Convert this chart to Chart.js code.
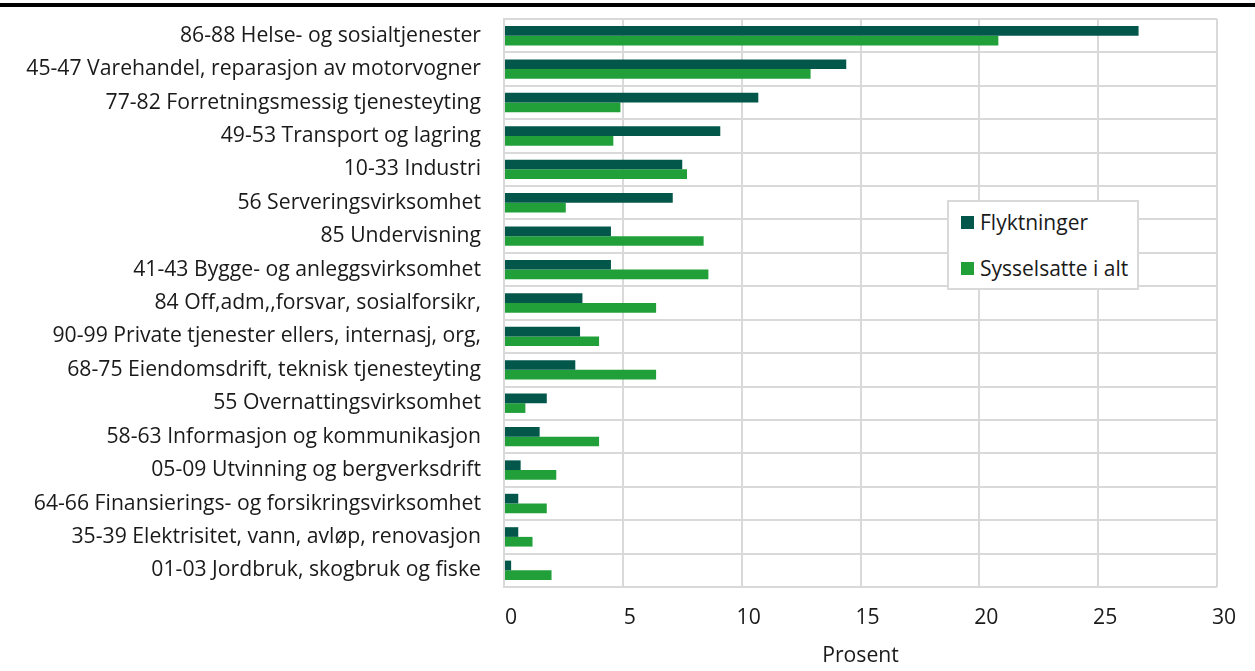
<!DOCTYPE html>
<html>
<head>
<meta charset="utf-8">
<script src="https://cdn.jsdelivr.net/npm/chart.js@4/dist/chart.umd.min.js"></script>
<style>
  body { margin: 0; background: #fff; }
  #wrap { position: relative; width: 1255px; height: 671px; }
  #topline { position: absolute; left: 0; top: 3px; width: 1255px; height: 4px; background: #000; }
  #legend { position: absolute; left: 947px; top: 200px; width: 188px; height: 86px;
    border: 2px solid #d9d9d9; background: #fff; font-family: "Open Sans", sans-serif; font-size: 21px; color: #1a1a1a; }
  .item { position: absolute; left: 12px; display: flex; align-items: center; white-space: nowrap; }
  .sw { width: 13px; height: 13px; margin-right: 6px; }
</style>
</head>
<body>
<div id="wrap">
  <canvas id="chart" width="1255" height="671"></canvas>
  <div id="topline"></div>
  <div id="legend"></div>
</div>
<script>
// categories (top to bottom)
var categories = [
  "86-88 Helse- og sosialtjenester",
  "45-47 Varehandel, reparasjon av motorvogner",
  "77-82 Forretningsmessig tjenesteyting",
  "49-53 Transport og lagring",
  "10-33 Industri",
  "56 Serveringsvirksomhet",
  "85 Undervisning",
  "41-43 Bygge- og anleggsvirksomhet",
  "84 Off,adm,,forsvar, sosialforsikr,",
  "90-99 Private tjenester ellers, internasj, org,",
  "68-75 Eiendomsdrift, teknisk tjenesteyting",
  "55 Overnattingsvirksomhet",
  "58-63 Informasjon og kommunikasjon",
  "05-09 Utvinning og bergverksdrift",
  "64-66 Finansierings- og forsikringsvirksomhet",
  "35-39 Elektrisitet, vann, avløp, renovasjon",
  "01-03 Jordbruk, skogbruk og fiske"
];
var flyktninger = [26.7, 14.4, 10.7, 9.1, 7.5, 7.1, 4.5, 4.5, 3.3, 3.2, 3.0, 1.8, 1.5, 0.7, 0.6, 0.6, 0.3];
var sysselsatte = [20.8, 12.9, 4.9, 4.6, 7.7, 2.6, 8.4, 8.6, 6.4, 4.0, 6.4, 0.9, 4.0, 2.2, 1.8, 1.2, 2.0];
var xTicks = [0, 5, 10, 15, 20, 25, 30];

var darkGreen = "#02574a";
var lightGreen = "#21a03a";
var fontSize = 21.2;

var ctx = document.getElementById("chart").getContext("2d");
var chart = new Chart(ctx, {
  type: "bar",
  data: {
    labels: categories,
    datasets: [
      { label: "Flyktninger", data: flyktninger, backgroundColor: darkGreen },
      { label: "Sysselsatte i alt", data: sysselsatte, backgroundColor: lightGreen }
    ]
  },
  options: {
    indexAxis: "y",
    responsive: false,
    animation: false,
    datasets: { bar: { barPercentage: 1.0, categoryPercentage: 0.58 } },
    layout: { padding: { top: 19, right: 38, left: 0, bottom: 0 } },
    plugins: { legend: { display: false }, tooltip: { enabled: false } },
    scales: {
      x: {
        min: 0, max: 30,
        afterBuildTicks: function (axis) { axis.ticks = xTicks.map(function (v) { return { value: v }; }); },
        afterFit: function (axis) { axis.height = 84; axis.paddingLeft = 0; axis.paddingRight = 0; },
        grid: { color: "#d9d9d9", lineWidth: 2, drawTicks: false },
        border: { display: false },
        ticks: { padding: 18, labelOffset: 7, color: "#1a1a1a", font: { family: "Open Sans", size: fontSize } },
        title: { display: true, text: "Prosent", color: "#1a1a1a", font: { family: "Open Sans", size: fontSize }, padding: { top: 4, bottom: 2 } }
      },
      y: {
        afterFit: function (axis) { axis.width = 504; axis.paddingTop = 0; axis.paddingBottom = 0; },
        grid: { color: "#d9d9d9", lineWidth: 2, drawTicks: false, offset: true },
        border: { color: "#d9d9d9", width: 2 },
        ticks: { padding: 23, color: "#1a1a1a", font: { family: "Open Sans", size: fontSize }, autoSkip: false }
      }
    }
  }
});

// legend box inside the plot, built from datasets
var legend = document.getElementById("legend");
chart.data.datasets.forEach(function (ds, i) {
  var item = document.createElement("div");
  item.className = "item";
  item.style.top = (6 + i * 46) + "px";
  item.innerHTML = '<span class="sw" style="background:' + ds.backgroundColor + '"></span>' + ds.label;
  legend.appendChild(item);
});
</script>
</body>
</html>
